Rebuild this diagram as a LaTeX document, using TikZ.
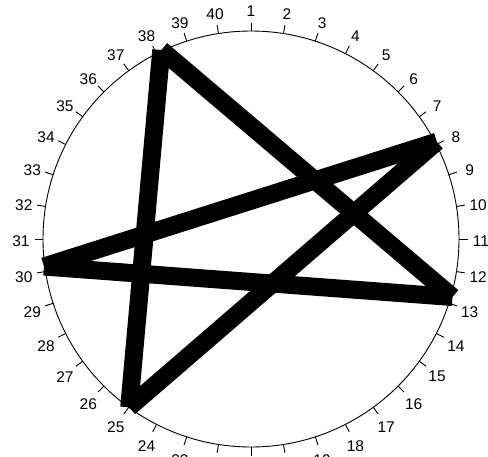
\documentclass[tikz,border=0pt]{standalone}
\usepackage{fontspec}
\setmainfont{Liberation Sans}
\usetikzlibrary{calc}
\begin{document}
\begin{tikzpicture}[x=1pt,y=-1pt,
  ticklbl/.style={font=\fontsize{15.5}{17}\selectfont, inner sep=0pt, text=black},
  tickmark/.style={line width=0.9pt},
  rim/.style={line width=0.9pt},
  chord/.style={line width=18pt, line cap=butt, draw=black}]
\useasboundingbox (0,0) rectangle (488,456);
\coordinate (c) at (251,239);
\draw[rim] (c) circle[radius=208pt];
\foreach \k in {1,...,40}{
  \pgfmathsetmacro\a{(\k-1)*9-90}
  \coordinate (p\k) at ($(c)+(\a:208)$);
  \coordinate (q\k) at ($(c)+(\a:216.5)$);
  \draw[tickmark] (p\k) -- (q\k);
  \node[ticklbl] (t\k) at ($(c)+(\a:230)+(0,2.5)$) {\k};
}
\coordinate (v38) at (161.3,50);
\coordinate (v13) at (452.5,297);
\coordinate (v30) at (44,266.5);
\coordinate (v8) at (436.8,141.7);
\coordinate (v25) at (129.2,407.3);
\draw[chord] (v38) -- (v13);
\draw[chord] (v13) -- (v30);
\draw[chord] (v30) -- (v8);
\draw[chord] (v8) -- (v25);
\draw[chord] (v25) -- (v38);
\end{tikzpicture}
\end{document}
